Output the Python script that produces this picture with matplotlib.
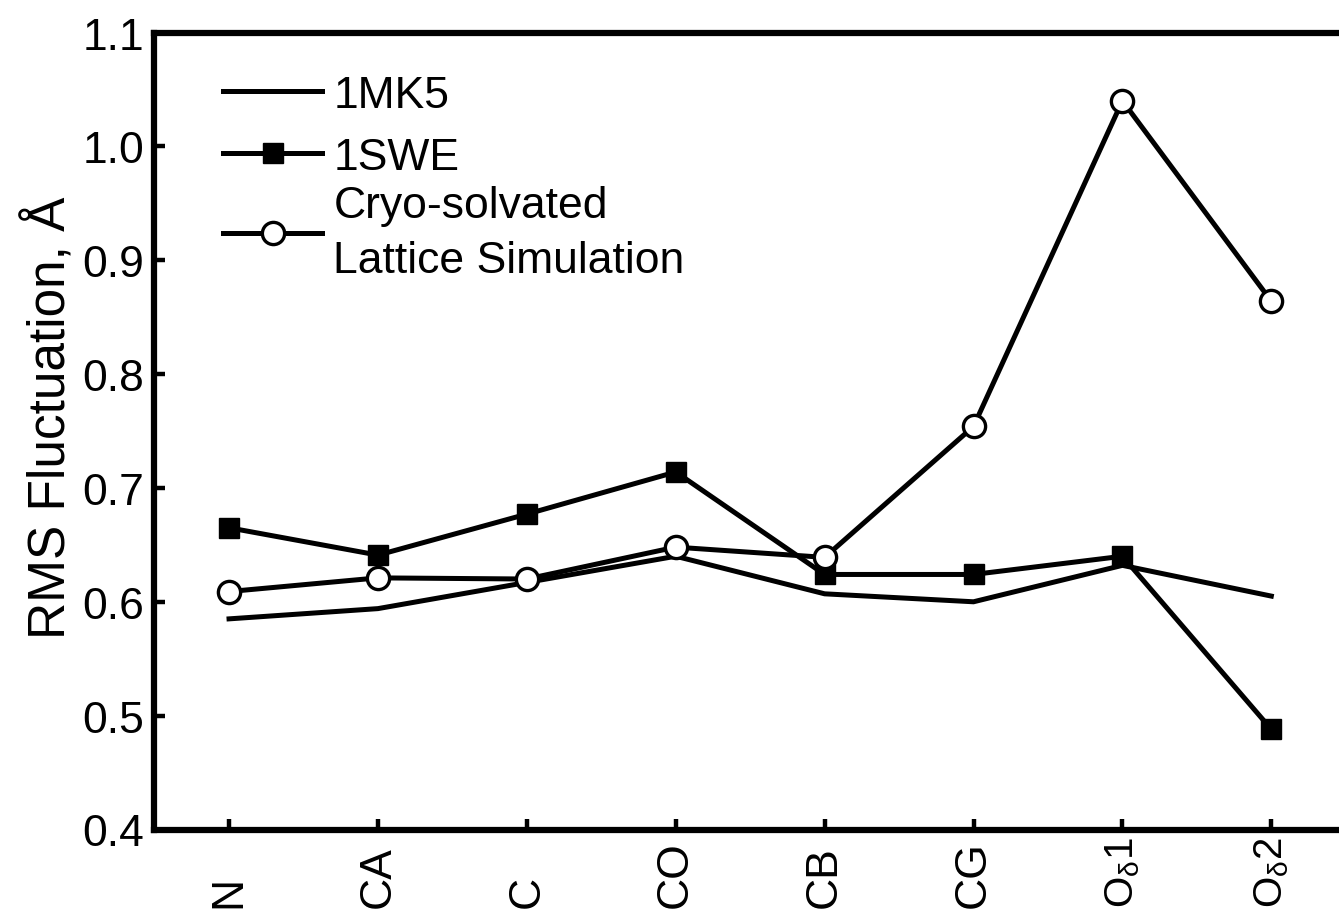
import matplotlib
matplotlib.use("Agg")
import matplotlib.pyplot as plt
import numpy as np

plt.rcParams['font.family'] = ['Liberation Sans', 'DejaVu Sans']
plt.rcParams['mathtext.fontset'] = 'custom'
plt.rcParams['mathtext.rm'] = 'Liberation Sans'
plt.rcParams['mathtext.it'] = 'Liberation Sans:italic'

categories = ['N', 'CA', 'C', 'CO', 'CB', 'CG', r'O$_{\mathrm{δ}}$1', r'O$_{\mathrm{δ}}$2']
mk5 = [0.585, 0.594, 0.617, 0.640, 0.607, 0.600, 0.632, 0.605]
swe = [0.665, 0.641, 0.677, 0.714, 0.624, 0.624, 0.640, 0.488]
cryo = [0.609, 0.621, 0.620, 0.648, 0.639, 0.754, 1.040, 0.864]
yticks = [0.4, 0.5, 0.6, 0.7, 0.8, 0.9, 1.0, 1.1]

W, H = 1339, 912
fig = plt.figure(figsize=(W / 100, H / 100), dpi=100)
left_px, right_px, top_px, bot_px = 154, 1345.75, 33.5, 830.5
ax = fig.add_axes([left_px / W, (H - bot_px) / H, (right_px - left_px) / W, (bot_px - top_px) / H])
x = np.arange(len(categories))

lw = 3.6
h1, = ax.plot(x, mk5, color='black', lw=lw, label='1MK5', solid_joinstyle='miter')
h2, = ax.plot(x, swe, color='black', lw=lw, marker='s', ms=14, mfc='black', mec='black',
              label='1SWE')
h3, = ax.plot(x, cryo, color='black', lw=lw, marker='o', ms=16, mfc='white', mec='black',
              mew=2.4, label='Cryo-solvated\nLattice Simulation')

ax.set_xlim(-0.504, 7.5)
ax.set_ylim(0.4, 1.1)
ax.set_yticks(yticks)
ax.set_yticklabels([f'{v:.1f}' for v in yticks])
ax.set_xticks(x)
ax.set_xticklabels(categories, rotation=90)
ax.tick_params(axis='both', direction='in', length=8, width=3.2, labelsize=32)
ax.tick_params(axis='y', pad=7)
ax.tick_params(axis='x', pad=56)
for lab in ax.get_xticklabels():
    lab.set_va('bottom')
    if 'δ' in lab.get_text():
        lab.set_fontsize(29)
for s in ['left', 'bottom', 'top', 'right']:
    ax.spines[s].set_linewidth(4.5)

ylab = ax.set_ylabel('RMS Fluctuation, Å', fontsize=37)
ylab.set_va('center')
ax.yaxis.set_label_coords(-0.087, 0.518)

legkw = dict(frameon=False, fontsize=32, handlelength=2.23, handletextpad=0.25,
             labelspacing=0.47, borderpad=0, borderaxespad=0)
leg1 = ax.legend(handles=[h1, h2], loc='upper left', bbox_to_anchor=(0.058, 0.947), **legkw)
ax.add_artist(leg1)
leg2 = ax.legend(handles=[h3], loc='center left', bbox_to_anchor=(0.058, 0.7484), **legkw)
for t in leg2.get_texts():
    t.set_linespacing(1.45)

fig.savefig('out.png', dpi=100)
